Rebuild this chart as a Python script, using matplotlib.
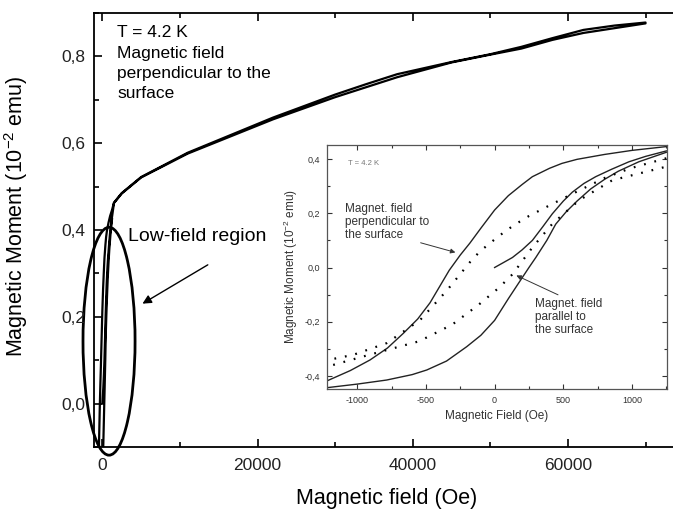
import matplotlib
matplotlib.use("Agg")
import matplotlib.pyplot as plt
from matplotlib.patches import Ellipse
from matplotlib.ticker import MultipleLocator, FuncFormatter

plt.rcParams['font.family'] = ['Liberation Sans', 'DejaVu Sans']
plt.rcParams['mathtext.fontset'] = 'custom'
plt.rcParams['mathtext.rm'] = 'Liberation Sans'
plt.rcParams['axes.unicode_minus'] = False

# --- perpendicular field, low-field loop (Oe, 1e-2 emu) ---
perp_virgin_f = [0, 60, 130, 200, 275, 350, 420, 500, 566, 650, 736, 850, 978, 1100, 1250]
perp_virgin_m = [0.0, 0.017, 0.037, 0.065, 0.1, 0.15, 0.198, 0.245, 0.278, 0.31, 0.335, 0.362, 0.39, 0.41, 0.43]

perp_down_f = [1250, 1000, 800, 600, 490, 400, 275, 200, 100, 0, -100, -180, -250, -330, -400, -470,
               -560, -665, -780, -907, -1050, -1175, -1250]
perp_down_m = [0.446, 0.432, 0.417, 0.399, 0.384, 0.366, 0.335, 0.306, 0.265, 0.212, 0.145, 0.09, 0.046,
               -0.01, -0.07, -0.13, -0.19, -0.243, -0.297, -0.341, -0.38, -0.408, -0.425]

perp_up_f = [-1250, -1000, -786, -600, -494, -350, -203, -100, 0, 100, 178, 250, 300, 380, 445, 520,
             600, 700, 800, 900, 1050, 1250]
perp_up_m = [-0.445, -0.43, -0.415, -0.395, -0.378, -0.345, -0.292, -0.25, -0.195, -0.115, -0.055, 0.0,
             0.037, 0.1, 0.16, 0.205, 0.245, 0.29, 0.325, 0.355, 0.39, 0.425]

# --- parallel field loop (dotted) ---
par_down_f = [1250, 988, 800, 623, 500, 380, 250, 137, 28, -106, -179, -348, -543, -786, -1029, -1250]
par_down_m = [0.403, 0.366, 0.33, 0.286, 0.255, 0.224, 0.19, 0.155, 0.115, 0.06, 0.02, -0.085, -0.194,
              -0.279, -0.322, -0.345]

par_up_f = [-1250, -913, -549, -307, -113, 33, 130, 275, 420, 615, 857, 1250]
par_up_m = [-0.37, -0.322, -0.272, -0.21, -0.136, -0.074, -0.025, 0.074, 0.161, 0.248, 0.322, 0.372]

# --- perpendicular field, high-field branches ---
high_up_f = [1250, 1500, 2500, 5000, 11000, 22000, 30000, 38000, 45000, 50000, 54000, 58000, 62000, 66000, 70000]
high_up_m = [0.43, 0.462, 0.484, 0.521, 0.576, 0.655, 0.706, 0.752, 0.786, 0.804, 0.818, 0.838, 0.854, 0.865, 0.876]
high_down_f = [70000, 66000, 62000, 58000, 54000, 50000, 45000, 38000, 34000, 30000, 22000, 11000, 5000, 2500, 1500, 1250]
high_down_m = [0.878, 0.871, 0.861, 0.842, 0.822, 0.805, 0.787, 0.759, 0.736, 0.712, 0.659, 0.578, 0.522, 0.485, 0.463, 0.446]


def comma(v, pos):
    if abs(v) < 1e-9:
        v = 0.0
    return f"{v:.1f}".replace('.', ',')


fig = plt.figure(figsize=(6.73, 5.09), dpi=100)
ax = fig.add_axes([0.1397, 0.1218, 0.8603, 0.8527])

main_f = perp_virgin_f + high_up_f + high_down_f + perp_down_f + perp_up_f
main_m = perp_virgin_m + high_up_m + high_down_m + perp_down_m + perp_up_m
ax.plot(main_f, main_m, color='black', lw=1.6)

ax.set_xlim(-1070, 73540)
ax.set_ylim(-0.1, 0.9)
ax.xaxis.set_major_locator(MultipleLocator(20000))
ax.xaxis.set_minor_locator(MultipleLocator(10000))
ax.yaxis.set_major_locator(MultipleLocator(0.2))
ax.yaxis.set_minor_locator(MultipleLocator(0.1))
ax.xaxis.set_major_formatter(FuncFormatter(lambda v, p: f"{v:.0f}"))
ax.yaxis.set_major_formatter(FuncFormatter(comma))
ax.tick_params(which='both', direction='in', top=True, right=False, width=1.2, colors='black',
               labelcolor='#222222', labelsize=12.5)
ax.tick_params(which='major', length=6)
ax.tick_params(which='minor', length=3.5)
ax.tick_params(axis='x', pad=8)
ax.tick_params(axis='y', pad=6)
ax.spines['right'].set_visible(False)
for s in ['left', 'bottom', 'top']:
    ax.spines[s].set_linewidth(1.3)

ax.set_xlabel("Magnetic field (Oe)", fontsize=15.5)
ax.xaxis.set_label_coords(0.506, -0.0945)
ax.set_ylabel("Magnetic Moment (10$^{-2}$ emu)", fontsize=15.5)
ax.yaxis.set_label_coords(-0.11, 0.532)

ax.text(0.0397, 0.972, "T = 4.2 K\nMagnetic field\nperpendicular to the\nsurface",
        transform=ax.transAxes, va='top', ha='left', fontsize=12.5, linespacing=1.45)
ax.text(3316, 0.385, "Low-field region", va='center', ha='left', fontsize=14)
ax.annotate("", xy=(4865, 0.227), xytext=(13900, 0.323),
            arrowprops=dict(arrowstyle='-|>', color='black', lw=1.0, mutation_scale=13))
ax.add_patch(Ellipse((865, 0.1437), 6710, 0.525, fill=False, lw=2, color='black', clip_on=False))

# inset
axi = fig.add_axes([0.4859, 0.2358, 0.5052, 0.4794])
axi.plot(perp_down_f, perp_down_m, color='#222222', lw=1.0)
axi.plot(perp_up_f, perp_up_m, color='#222222', lw=1.0)
axi.plot(perp_virgin_f, perp_virgin_m, color='#222222', lw=1.0)
axi.plot(par_down_f, par_down_m, color='black', lw=1.6, linestyle=(0, (0.8, 4.0)))
axi.plot(par_up_f, par_up_m, color='black', lw=1.6, linestyle=(0, (0.8, 4.0)))

axi.set_xlim(-1220, 1255)
axi.set_ylim(-0.448, 0.452)
axi.xaxis.set_major_locator(MultipleLocator(500))
axi.xaxis.set_minor_locator(MultipleLocator(250))
axi.yaxis.set_major_locator(MultipleLocator(0.2))
axi.yaxis.set_minor_locator(MultipleLocator(0.1))
axi.yaxis.set_major_formatter(FuncFormatter(comma))
axi.tick_params(which='both', direction='in', top=True, right=True, width=0.8, colors='#333333',
                labelcolor='#333333', labelsize=6.5, pad=5)
axi.tick_params(which='major', length=3.5)
axi.tick_params(which='minor', length=2)
for s in axi.spines.values():
    s.set_linewidth(0.9)
    s.set_color('#555555')
axi.set_xlabel("Magnetic Field (Oe)", fontsize=8.5, color='#333333', labelpad=4)
axi.set_ylabel("Magnetic Moment (10$^{-2}$ emu)", fontsize=8.5, color='#333333', labelpad=3)

axi.text(-1068, 0.385, "T = 4.2 K", fontsize=5.5, color='#777777', va='center', ha='left')
axi.text(-1090, 0.237, "Magnet. field\nperpendicular to\nthe surface", fontsize=8.5,
         color='#333333', va='top', ha='left', linespacing=1.1)
axi.annotate("", xy=(-266, 0.053), xytext=(-558, 0.094),
             arrowprops=dict(arrowstyle='-|>', color='#333333', lw=0.7, mutation_scale=7))
axi.text(295, -0.113, "Magnet. field\nparallel to\nthe surface", fontsize=8.5,
         color='#333333', va='top', ha='left', linespacing=1.1)
axi.annotate("", xy=(140, -0.025), xytext=(480, -0.105),
             arrowprops=dict(arrowstyle='-|>', color='#333333', lw=0.7, mutation_scale=7))

fig.savefig("out.png", dpi=100)
